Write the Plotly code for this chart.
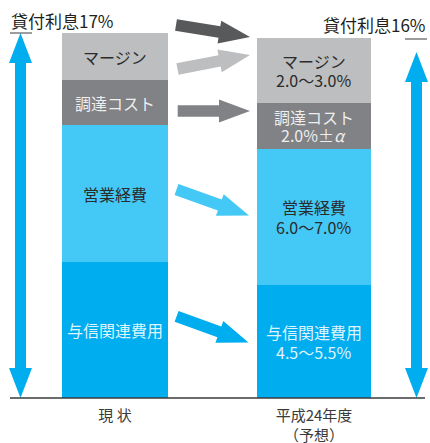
import math
import plotly.graph_objects as go

# ---- data -------------------------------------------------------------
periods = ["現 状", "平成24年度<br>（予想）"]
segments = ["与信関連費用", "営業経費", "調達コスト", "マージン"]
# percentage points per segment, bottom to top, for each period
credit_cost = [6.35, 5.25]
operating_cost = [6.35, 6.35]
funding_cost = [2.1, 2.15]
margin = [2.2, 3.0]
range_labels = ["4.5〜5.5%", "6.0〜7.0%", "2.0%±<i>α</i>", "2.0〜3.0%"]
total_labels = ["貸付利息17%", "貸付利息16%"]

colors = ["#00AEEF", "#44C8F5", "#808285", "#BCBEC0"]
text_colors = ["rgba(255,255,255,0.88)", "#2B2B2B", "rgba(255,255,255,0.88)", "#2B2B2B"]
arrow_colors = ["#58595B", "#BCBEC0", "#808285", "#44C8F5", "#00AEEF"]
line_gap = [10, 10, 9, 9.5]   # half the spacing between the two label lines, per segment

W, H = 430, 443
PLOT_H = 398          # height of the plotting area (baseline at its bottom)
UNIT = 21.47          # pixels per percentage point
FONT = "Noto Sans CJK JP, Noto Sans, sans-serif"

series = [credit_cost, operating_cost, funding_cost, margin]

fig = go.Figure()
for name, vals, col in zip(segments, series, colors):
    fig.add_trace(go.Bar(
        x=[0, 1], y=vals, name=name, marker=dict(color=col, line=dict(width=0)),
        width=[0.533, 0.573], hoverinfo="skip",
    ))

# segment labels, centred in each segment
for i in range(2):
    base = 0.0
    for k, (name, vals) in enumerate(zip(segments, series)):
        mid = base + vals[i] / 2
        base += vals[i]
        font = dict(family=FONT, size=16, color=text_colors[k])
        if i == 0:
            fig.add_annotation(x=i, y=mid, xref="x", yref="y", text=name, showarrow=False,
                               font=font, xanchor="center", yanchor="middle")
        else:
            for txt, shift in ((name, line_gap[k]), (range_labels[k], -line_gap[k])):
                fig.add_annotation(x=i, y=mid, xref="x", yref="y", text=txt, showarrow=False,
                                   font=font, xanchor="center", yanchor="middle", yshift=shift)


# ---- helpers for decorations (pixel -> paper) ------------------------
def px(x):
    return x / W


def py(y):
    return (PLOT_H - y) / PLOT_H


def poly(points):
    return "M " + " L ".join(f"{px(x):.5f},{py(y):.5f}" for x, y in points) + " Z"


def arrow(x0, y0, x1, y1, shaft, head_w, head_len):
    dx, dy = x1 - x0, y1 - y0
    L = math.hypot(dx, dy)
    ux, uy = dx / L, dy / L
    nx, ny = -uy, ux
    bx, by = x1 - ux * head_len, y1 - uy * head_len
    s, h = shaft / 2, head_w / 2
    return poly([
        (x0 + nx * s, y0 + ny * s), (bx + nx * s, by + ny * s), (bx + nx * h, by + ny * h),
        (x1, y1),
        (bx - nx * h, by - ny * h), (bx - nx * s, by - ny * s), (x0 - nx * s, y0 - ny * s),
    ])


def double_arrow(cx, ytop, ybot, shaft, head_w, head_len):
    s, h = shaft / 2, head_w / 2
    return poly([
        (cx, ytop), (cx + h, ytop + head_len), (cx + s, ytop + head_len),
        (cx + s, ybot - head_len), (cx + h, ybot - head_len), (cx, ybot),
        (cx - h, ybot - head_len), (cx - s, ybot - head_len), (cx - s, ytop + head_len),
        (cx - h, ytop + head_len),
    ])


shapes = []
# transition arrows between the two bars
links = [
    ((176, 25), (250, 37)),
    ((177.5, 69), (250, 55)),
    ((177.7, 111), (250, 111)),
    ((176.5, 189.5), (249, 215.5)),
    ((176.6, 316.4), (248.5, 342.5)),
]
for (a, b), col in zip(links, arrow_colors):
    shapes.append(dict(type="path", xref="paper", yref="paper", path=arrow(*a, *b, 11.5, 23, 31),
                       fillcolor=col, line=dict(width=0), layer="above"))

# vertical range arrows
shapes.append(dict(type="path", xref="paper", yref="paper", path=double_arrow(20.5, 33, 398, 11, 23, 30),
                   fillcolor="#00AEEF", line=dict(width=0)))
shapes.append(dict(type="path", xref="paper", yref="paper", path=double_arrow(416.5, 52, 398, 11, 23, 30),
                   fillcolor="#00AEEF", line=dict(width=0)))

# baseline and total markers
shapes.append(dict(type="line", xref="paper", yref="paper", x0=px(10), x1=px(425), y0=py(398), y1=py(398),
                   line=dict(color="#3A3A3A", width=1.5)))
shapes.append(dict(type="line", xref="paper", yref="paper", x0=px(10), x1=px(32), y0=py(33), y1=py(33),
                   line=dict(color="#3A3A3A", width=1)))
shapes.append(dict(type="line", xref="paper", yref="paper", x0=px(405), x1=px(427), y0=py(39), y1=py(39),
                   line=dict(color="#3A3A3A", width=1)))

fig.add_annotation(x=px(9), y=py(20), xref="paper", yref="paper", text=total_labels[0], showarrow=False,
                   xanchor="left", yanchor="middle", font=dict(family=FONT, size=17, color="#231F20"))
fig.add_annotation(x=px(428), y=py(25), xref="paper", yref="paper", text=total_labels[1], showarrow=False,
                   xanchor="right", yanchor="middle", font=dict(family=FONT, size=17, color="#231F20"))

fig.update_layout(
    width=W, height=H, barmode="stack", showlegend=False,
    margin=dict(l=0, r=0, t=0, b=H - PLOT_H, pad=0, autoexpand=False),
    paper_bgcolor="white", plot_bgcolor="white",
    shapes=shapes,
    xaxis=dict(range=[-0.578, 1.583], tickmode="array", tickvals=[0, 1], ticktext=periods,
               showgrid=False, zeroline=False, showline=False, ticks="", automargin=False,
               ticklabelstandoff=7, tickfont=dict(family=FONT, size=15, color="#3A3A3A"),
               fixedrange=True),
    yaxis=dict(range=[0, PLOT_H / UNIT], visible=False, fixedrange=True, automargin=False),
)

fig.write_html("out.html", config={"displayModeBar": False})
